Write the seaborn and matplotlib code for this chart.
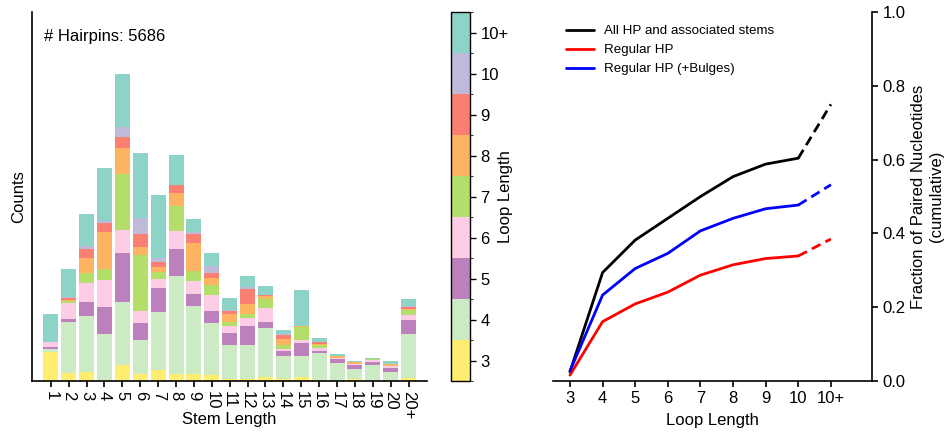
import matplotlib
matplotlib.use("Agg")
import matplotlib.pyplot as plt
import matplotlib.colors as mcolors
import matplotlib.cm as cm
from matplotlib.lines import Line2D
import numpy as np
import pandas as pd
import seaborn as sns

# ---------------- data ----------------
stem_labels = ["1", "2", "3", "4", "5", "6", "7", "8", "9", "10", "11", "12",
               "13", "14", "15", "16", "17", "18", "19", "20", "20+"]
loop_labels = ["3", "4", "5", "6", "7", "8", "9", "10", "10+"]
loop_colors = ["#ffed6f", "#ccebc5", "#bc80bd", "#fccde5", "#b3de69",
               "#fdb462", "#fb8072", "#bebada", "#8dd3c7"]

loop3 = [87, 24, 27, 4, 48, 22, 33, 22, 22, 18, 6, 6, 12, 6, 12, 3, 0, 6, 0, 0, 9]
loop4 = [8, 153, 168, 137, 189, 101, 174, 293, 203, 156, 102, 102, 147, 69, 63, 81, 54, 30, 48, 27, 132]
loop5 = [7, 9, 42, 81, 147, 51, 72, 81, 36, 36, 36, 57, 18, 15, 39, 6, 12, 12, 9, 12, 42]
loop6 = [15, 48, 57, 81, 69, 36, 27, 54, 39, 48, 21, 24, 42, 6, 9, 9, 3, 3, 6, 6, 15]
loop7 = [0, 5, 30, 33, 168, 168, 21, 75, 30, 30, 12, 12, 27, 12, 39, 9, 0, 0, 3, 0, 15]
loop8 = [0, 3, 45, 111, 78, 24, 15, 39, 84, 21, 24, 30, 9, 18, 3, 3, 6, 6, 0, 6, 2]
loop9 = [0, 6, 27, 27, 33, 39, 15, 24, 27, 15, 9, 45, 3, 12, 0, 6, 0, 0, 0, 0, 7]
loop10 = [0, 5, 9, 6, 30, 48, 12, 0, 6, 21, 3, 5, 0, 3, 0, 0, 0, 0, 0, 0, 3]
loop10p = [84, 82, 96, 159, 159, 195, 189, 90, 39, 39, 36, 34, 27, 12, 108, 12, 6, 3, 3, 9, 21]
layers = [loop3, loop4, loop5, loop6, loop7, loop8, loop9, loop10, loop10p]

line_x = ["3", "4", "5", "6", "7", "8", "9", "10", "10+"]
all_hp = [0.025, 0.294, 0.382, 0.441, 0.500, 0.554, 0.588, 0.604, 0.750]
regular_hp = [0.016, 0.161, 0.209, 0.241, 0.287, 0.315, 0.332, 0.339, 0.385]
regular_bulge = [0.027, 0.233, 0.305, 0.346, 0.407, 0.441, 0.467, 0.477, 0.532]

# ---------------- style ----------------
sns.set_style("ticks")
plt.rcParams["font.family"] = ["Liberation Sans", "DejaVu Sans"]
plt.rcParams["font.size"] = 12
for k in ["text.color", "axes.labelcolor", "xtick.color", "ytick.color",
          "axes.edgecolor"]:
    plt.rcParams[k] = "black"

FS = 12

fig = plt.figure(figsize=(9.5, 4.32), dpi=100)
ax1 = fig.add_axes([0.0337, 0.118, 0.4158, 0.854])
cax = fig.add_axes([0.4747, 0.118, 0.02, 0.854])
ax2 = fig.add_axes([0.5821, 0.118, 0.3358, 0.854])

# ---------------- stacked bars ----------------
rows = []
for li, vals in enumerate(layers):
    for si, v in enumerate(vals):
        rows.append({"stem": si, "loop": loop_labels[li], "count": v})
df = pd.DataFrame(rows)

sns.histplot(data=df, x="stem", weights="count", hue="loop",
             hue_order=loop_labels[::-1], palette=dict(zip(loop_labels, loop_colors)),
             multiple="stack", discrete=True, shrink=0.84, element="bars",
             linewidth=0, alpha=1, legend=False, ax=ax1)

ax1.set_xlim(-1.05, 21.03)
ax1.set_ylim(0, 1107)
ax1.set_xticks(range(len(stem_labels)))
ax1.set_xticklabels(stem_labels, rotation=270, fontsize=FS)
ax1.set_yticks([])
ax1.set_xlabel("Stem Length", fontsize=FS)
ax1.xaxis.set_label_coords(0.5, -0.083)
ax1.set_ylabel("Counts", fontsize=FS, labelpad=4)
ax1.tick_params(axis="x", length=4, width=1.2, colors="black", pad=3)
for s in ["top", "right"]:
    ax1.spines[s].set_visible(False)
for s in ["left", "bottom"]:
    ax1.spines[s].set_color("black")
    ax1.spines[s].set_linewidth(1.2)
ax1.text(0.03, 0.955, "# Hairpins: 5686", transform=ax1.transAxes,
         fontsize=FS, ha="left", va="top")

# ---------------- colorbar ----------------
cmap = mcolors.ListedColormap(loop_colors)
norm = mcolors.BoundaryNorm(np.arange(2.5, 12.5, 1.0), cmap.N)
sm = cm.ScalarMappable(cmap=cmap, norm=norm)
cbar = fig.colorbar(sm, cax=cax, ticks=np.arange(3, 12))
cbar.ax.set_yticklabels(loop_labels, fontsize=FS)
cbar.set_label("Loop Length", fontsize=FS, labelpad=-8)
cbar.outline.set_linewidth(1.0)
cbar.outline.set_edgecolor("black")
cbar.ax.tick_params(length=4, width=1, colors="black")

# ---------------- lines ----------------
xs = np.arange(len(line_x))
series = [("All HP and associated stems", all_hp, "black"),
          ("Regular HP", regular_hp, "red"),
          ("Regular HP (+Bulges)", regular_bulge, "blue")]
handles = []
for name, vals, col in series:
    sns.lineplot(x=xs[:8], y=vals[:8], color=col, linewidth=2, ax=ax2)
    sns.lineplot(x=xs[7:], y=vals[7:], color=col, linewidth=2,
                 linestyle=(0, (3.5, 2)), ax=ax2)
    handles.append(Line2D([0], [0], color=col, linewidth=2, label=name))

ax2.legend(handles=handles, loc="upper left", frameon=False, fontsize=9.6,
           handlelength=2.1, handletextpad=0.75, borderaxespad=0.3,
           bbox_to_anchor=(0.01, 0.99), labelspacing=0.5)
ax2.set_xlim(-0.52, 9.26)
ax2.set_ylim(0, 1.0)
ax2.set_xticks(xs)
ax2.set_xticklabels(line_x, fontsize=FS)
ax2.set_yticks([0.0, 0.2, 0.4, 0.6, 0.8, 1.0])
ax2.set_yticklabels(["0.0", "0.2", "0.4", "0.6", "0.8", "1.0"], fontsize=FS)
ax2.yaxis.tick_right()
ax2.yaxis.set_label_position("right")
ax2.set_xlabel("Loop Length", fontsize=FS, labelpad=5)
ax2.set_ylabel("Fraction of Paired Nucleotides\n(cumulative)", fontsize=FS,
               labelpad=4)
ax2.tick_params(length=4, width=1.2, colors="black")
for s in ["top", "left"]:
    ax2.spines[s].set_visible(False)
for s in ["right", "bottom"]:
    ax2.spines[s].set_color("black")
    ax2.spines[s].set_linewidth(1.2)

fig.savefig("out.png", dpi=100)
